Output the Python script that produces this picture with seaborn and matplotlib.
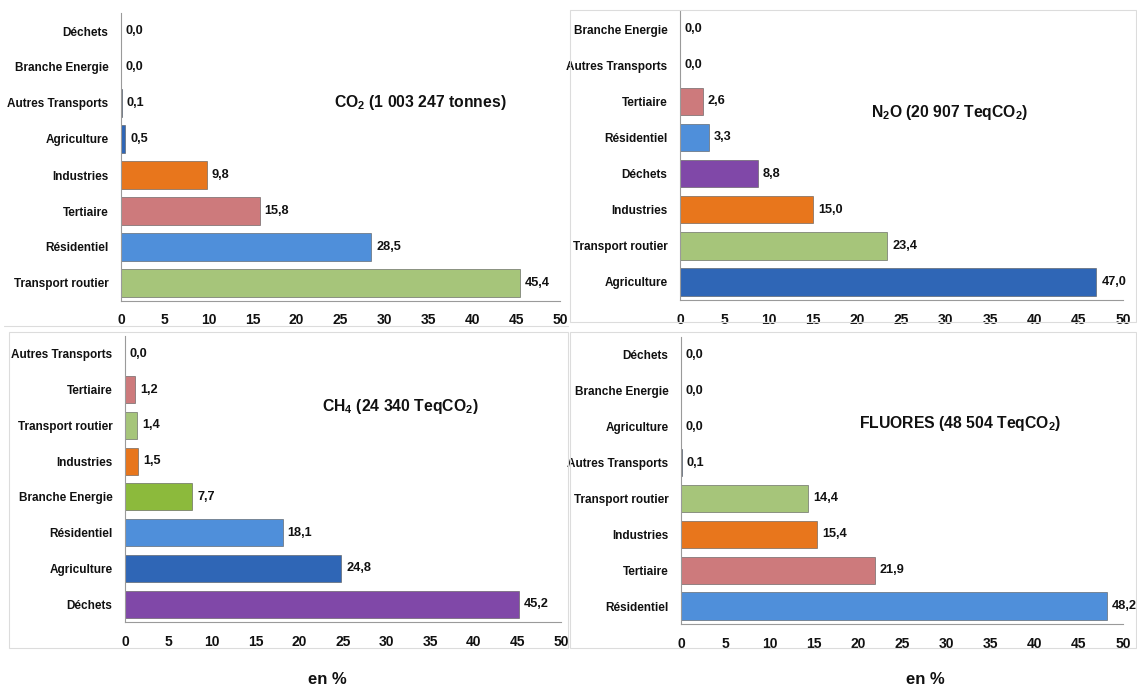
import numpy as np
import pandas as pd
import matplotlib
matplotlib.use("Agg")
import matplotlib.pyplot as plt
from matplotlib.patches import Rectangle
from matplotlib.lines import Line2D
import seaborn as sns

# data (percent)
co2_cats = ["Déchets", "Branche Energie", "Autres Transports", "Agriculture",
            "Industries", "Tertiaire", "Résidentiel", "Transport routier"]
co2_vals = [0.0, 0.0, 0.1, 0.5, 9.8, 15.8, 28.5, 45.4]

n2o_cats = ["Branche Energie", "Autres Transports", "Tertiaire", "Résidentiel",
            "Déchets", "Industries", "Transport routier", "Agriculture"]
n2o_vals = [0.0, 0.0, 2.6, 3.3, 8.8, 15.0, 23.4, 47.0]

ch4_cats = ["Autres Transports", "Tertiaire", "Transport routier", "Industries",
            "Branche Energie", "Résidentiel", "Agriculture", "Déchets"]
ch4_vals = [0.0, 1.2, 1.4, 1.5, 7.7, 18.1, 24.8, 45.2]

fl_cats = ["Déchets", "Branche Energie", "Agriculture", "Autres Transports",
           "Transport routier", "Industries", "Tertiaire", "Résidentiel"]
fl_vals = [0.0, 0.0, 0.0, 0.1, 14.4, 15.4, 21.9, 48.2]

titles = [r"CO$_\mathbf{2}$ (1 003 247 tonnes)",
          r"N$_\mathbf{2}$O (20 907 TeqCO$_\mathbf{2}$)",
          r"CH$_\mathbf{4}$ (24 340 TeqCO$_\mathbf{2}$)",
          r"FLUORES (48 504 TeqCO$_\mathbf{2}$)"]

palette = {
    "Transport routier": "#A6C57A",
    "Résidentiel": "#4F8FDA",
    "Tertiaire": "#CD7A7C",
    "Industries": "#E8761C",
    "Agriculture": "#2F66B6",
    "Déchets": "#8048A8",
    "Branche Energie": "#8CBA3C",
    "Autres Transports": "#4A6A9E",
}

sns.set_style("white")
plt.rcParams["font.family"] = ["Liberation Sans", "DejaVu Sans"]
plt.rcParams["mathtext.fontset"] = "custom"
plt.rcParams["mathtext.rm"] = "Liberation Sans"
plt.rcParams["mathtext.bf"] = "Liberation Sans:bold"

W, H = 1137, 686
fig = plt.figure(figsize=(W / 100, H / 100), dpi=100)


def px_axes(x0, x1, y0, y1):
    # pixel box (top-left origin) -> figure axes
    return fig.add_axes([x0 / W, 1 - y1 / H, (x1 - x0) / W, (y1 - y0) / H])


# panel frames (the first panel only shows its bottom edge)
fig.lines.append(Line2D([4 / W, 568 / W], [1 - 326 / H, 1 - 326 / H],
                        transform=fig.transFigure, color="#DCDCDC", lw=0.8))
for (x0, y0, x1, y1) in [(570, 10, 1136, 322), (9, 332, 568, 648),
                         (570, 332, 1136, 648)]:
    fig.patches.append(Rectangle((x0 / W, 1 - y1 / H), (x1 - x0) / W, (y1 - y0) / H,
                                 transform=fig.transFigure, fill=False,
                                 edgecolor="#DCDCDC", lw=0.8))

panels = [
    (co2_cats, co2_vals, (121, 560, 13, 301), (420, 102)),
    (n2o_cats, n2o_vals, (680, 1123, 11, 300), (950, 112)),
    (ch4_cats, ch4_vals, (125, 561, 336, 622), (400, 407)),
    (fl_cats, fl_vals, (681, 1123, 337, 624), (960, 423)),
]

for (cats, vals, box, tpos), title in zip(panels, titles):
    ax = px_axes(*box)
    df = pd.DataFrame({"cat": cats, "val": vals})
    sns.barplot(data=df, y="cat", x="val", hue="cat", palette=palette,
                order=cats, orient="h", width=0.76, legend=False, saturation=1,
                edgecolor="#555555", linewidth=0.4, ax=ax)
    ax.set_xlim(0, 50)
    ax.set_ylim(len(cats) - 0.5, -0.5)
    ax.set_xticks(range(0, 51, 5))
    ax.set_xlabel("")
    ax.set_ylabel("")
    ax.tick_params(axis="both", length=0, labelsize=8.5, colors="#111111")
    ax.tick_params(axis="x", pad=9, labelsize=10)
    ax.tick_params(axis="y", pad=9)
    for lab in ax.get_xticklabels() + ax.get_yticklabels():
        lab.set_fontweight("bold")
    for s in ["top", "right"]:
        ax.spines[s].set_visible(False)
    for s in ["left", "bottom"]:
        ax.spines[s].set_color("#9A9A9A")
        ax.spines[s].set_linewidth(0.8)
    for i, v in enumerate(vals):
        ax.annotate(f"{v:.1f}".replace(".", ","), (v, i), xytext=(3.5, 0),
                    textcoords="offset points", va="center", ha="left",
                    fontsize=9.2, fontweight="bold", color="#111111",
                    annotation_clip=False)
    fig.text(tpos[0] / W, 1 - tpos[1] / H, title, ha="center", va="center",
             fontsize=11.3, fontweight="bold", color="#111111")

fig.text(327 / W, 1 - 679 / H, "en %", ha="center", va="center",
         fontsize=12, fontweight="bold", color="#111111")
fig.text(925 / W, 1 - 679 / H, "en %", ha="center", va="center",
         fontsize=12, fontweight="bold", color="#111111")

fig.savefig("out.png", dpi=100)
